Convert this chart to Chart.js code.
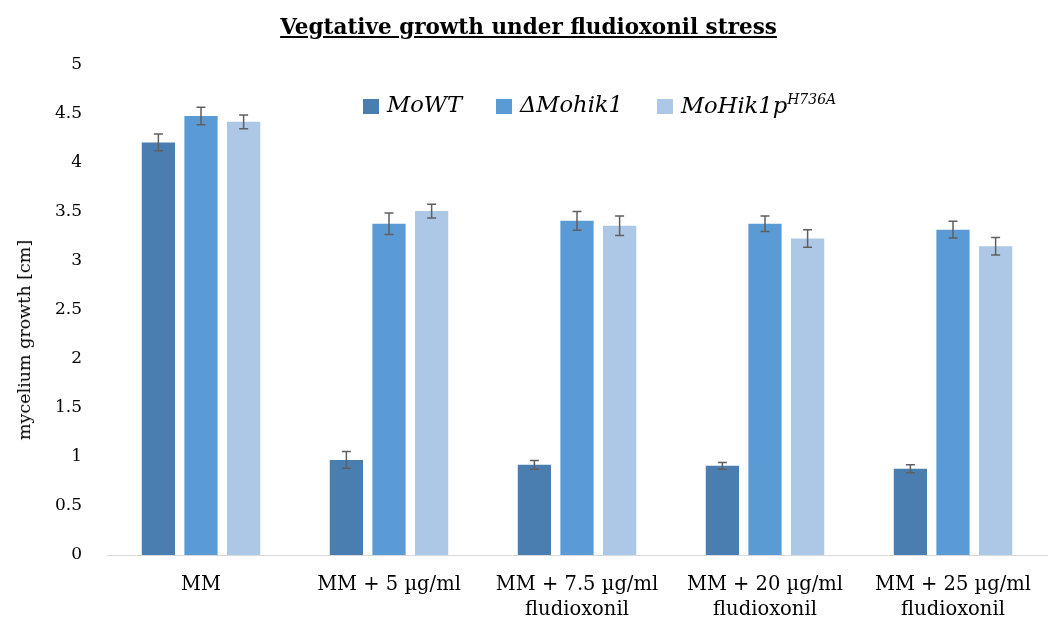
<!DOCTYPE html>
<html>
<head>
<meta charset="utf-8">
<script src="https://cdn.jsdelivr.net/npm/chart.js@4.4.0/dist/chart.umd.min.js"></script>
<style>
  html, body { margin: 0; padding: 0; background: #fff; }
  #wrap { position: relative; width: 1051px; height: 625px; }
  #chart { display: block; }
  #title {
    position: absolute; top: 14px; left: 0; width: 1057px; text-align: center;
    font: bold 21.5px 'DejaVu Serif', serif; text-decoration: underline; color: #000;
  }
  #legend {
    position: absolute; top: 91px; left: 363px; display: flex; align-items: center;
    font: italic 22.6px 'DejaVu Serif', serif; color: #000; white-space: nowrap;
  }
  #legend .item { display: flex; align-items: center; margin-right: 34px; }
  #legend .box { width: 16px; height: 15px; margin-right: 8px; margin-top: 4px; }
  #legend sup { font-size: 14px; }
  #ytitle {
    position: absolute; left: 24px; top: 340px; transform: translate(-50%, -50%) rotate(-90deg);
    font: 17.5px 'DejaVu Serif', serif; color: #000; white-space: nowrap;
  }
</style>
</head>
<body>
<div id="wrap">
  <canvas id="chart" width="1051" height="625"></canvas>
  <div id="title">Vegtative growth under fludioxonil stress</div>
  <div id="legend"></div>
  <div id="ytitle">mycelium growth [cm]</div>
</div>
<script>
// categories and values
const categories = ['MM', 'MM + 5 µg/ml', ['MM + 7.5 µg/ml', 'fludioxonil'], ['MM + 20 µg/ml', 'fludioxonil'], ['MM + 25 µg/ml', 'fludioxonil']];
const moWT = [4.21, 0.97, 0.92, 0.91, 0.88];
const moWTErr = [0.085, 0.085, 0.045, 0.035, 0.04];
const deltaMohik1 = [4.48, 3.38, 3.41, 3.38, 3.32];
const deltaMohik1Err = [0.09, 0.11, 0.095, 0.08, 0.085];
const moHik1p = [4.42, 3.51, 3.36, 3.23, 3.15];
const moHik1pErr = [0.07, 0.07, 0.10, 0.09, 0.09];
const yTicks = [0, 0.5, 1, 1.5, 2, 2.5, 3, 3.5, 4, 4.5, 5];

const colors = ['#4a7eb0', '#5b9bd5', '#adc8e6'];
const legendHtml = ['MoWT', '&Delta;Mohik1', 'MoHik1p<sup>H736A</sup>'];

// legend as html so the superscript works
var legendDiv = document.getElementById('legend');
legendHtml.forEach(function (txt, i) {
    var item = document.createElement('div');
    item.className = 'item';
    item.innerHTML = '<span class="box" style="background:' + colors[i] + '"></span><span>' + txt + '</span>';
    legendDiv.appendChild(item);
});

//error bars drawn on top of the bars
const errorBars = {
    id: 'errorBars',
    afterDatasetsDraw: function (chart) {
        var ctx = chart.ctx, y = chart.scales.y;
        chart.data.datasets.forEach(function (ds, i) {
            var meta = chart.getDatasetMeta(i);
            meta.data.forEach(function (bar, j) {
                var v = ds.data[j], e = ds.errors[j];
                var top = y.getPixelForValue(v + e), bot = y.getPixelForValue(v - e);
                ctx.save();
                ctx.strokeStyle = '#5f5f5f';
                ctx.lineWidth = 1.5;
                ctx.beginPath();
                ctx.moveTo(bar.x, top); ctx.lineTo(bar.x, bot);
                ctx.moveTo(bar.x - 4.5, top); ctx.lineTo(bar.x + 4.5, top);
                ctx.moveTo(bar.x - 4.5, bot); ctx.lineTo(bar.x + 4.5, bot);
                ctx.stroke();
                ctx.restore();
            });
        });
    }
};

const data = {
    labels: categories,
    datasets: [
        { label: 'MoWT', data: moWT, errors: moWTErr, backgroundColor: colors[0] },
        { label: 'ΔMohik1', data: deltaMohik1, errors: deltaMohik1Err, backgroundColor: colors[1] },
        { label: 'MoHik1p H736A', data: moHik1p, errors: moHik1pErr, backgroundColor: colors[2] }
    ]
};

const config = {
    type: 'bar',
    data: data,
    options: {
        responsive: false,
        animation: false,
        devicePixelRatio: 1,
        layout: { padding: { top: 65, right: 4, left: 0, bottom: 0 } },
        datasets: { bar: { categoryPercentage: 0.68, barPercentage: 0.78 } },
        plugins: { legend: { display: false }, title: { display: false }, tooltip: { enabled: false } },
        scales: {
            x: {
                grid: { display: false, drawTicks: false },
                border: { display: true, color: '#d9d9d9', width: 1 },
                ticks: { color: '#000', padding: 17, maxRotation: 0, autoSkip: false,
                    font: { family: 'DejaVu Serif', size: 19.5, lineHeight: 1.3 } },
                afterFit: function (s) { s.height = 70; }
            },
            y: {
                min: 0, max: 5,
                afterBuildTicks: function (s) { s.ticks = yTicks.map(function (v) { return { value: v }; }); },
                grid: { display: false, drawTicks: false },
                border: { display: false },
                ticks: { color: '#000', padding: 25, font: { family: 'DejaVu Serif', size: 17 },
                    callback: function (v) { return String(v); } },
                afterFit: function (s) { s.width = 107; }
            }
        }
    },
    plugins: [errorBars]
};

const growthChart = new Chart(document.getElementById('chart'), config);
</script>
</body>
</html>
